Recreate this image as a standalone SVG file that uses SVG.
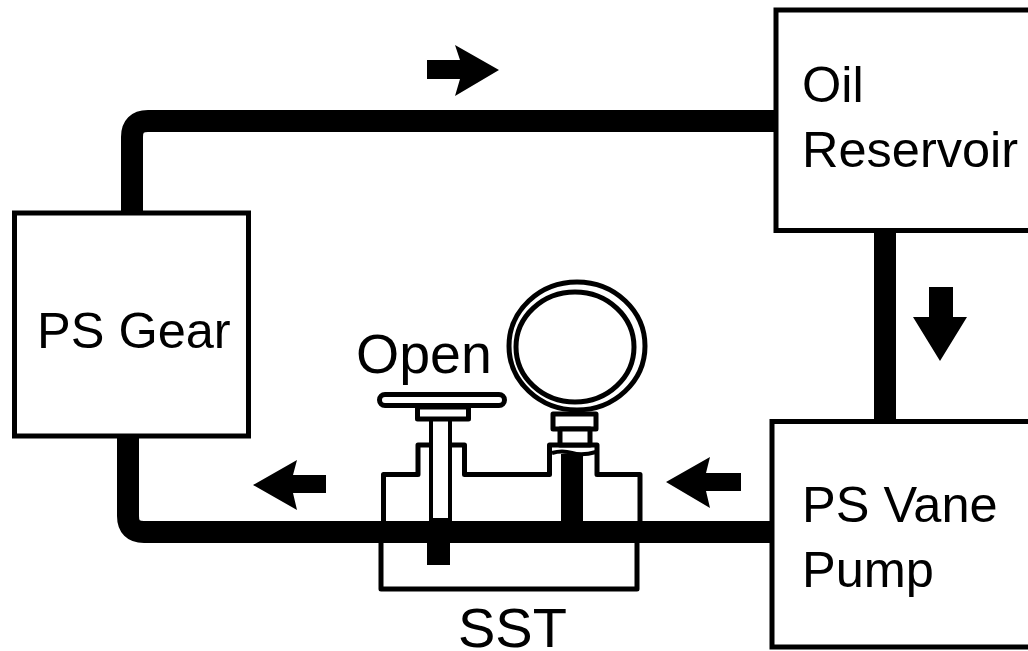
<svg xmlns="http://www.w3.org/2000/svg" width="1028" height="651" viewBox="0 0 1028 651">
<style>
.box{fill:#fff;stroke:#000;stroke-width:5}
.pipe{fill:none;stroke:#000;stroke-width:22}
.line{fill:#fff;stroke:#000;stroke-width:5;stroke-linejoin:round}
.solid{fill:#000;stroke:none}
text{font-family:"Liberation Sans",Arial,sans-serif;fill:#000}
.t50{font-size:50.5px}
.t54{font-size:55.5px}
</style>
<rect width="1028" height="651" fill="#fff"/>
<g id="sst-body">
<path class="line" d="M383.500 531V474.500H418V445H464.500V474.500H549.500V445H597V474.500H640V531H637V589H381V531Z"/>
</g>
<g id="connectors">
<path class="pipe" d="M132 214V137Q132 121 148 121H777"/>
<path class="pipe" d="M885 230V421"/>
<path class="pipe" d="M128 436V516Q128 532 144 532H775"/>
<path class="solid" d="M427 60H460L455 45L499 70L455 96L460 79H427Z"/>
<path class="solid" d="M929 287H953V317H967L940 361L913 317H929Z"/>
<path class="solid" d="M326 475H293L297 460L253 485L297 510L293 493H326Z"/>
<path class="solid" d="M741 473H706L710 457L666 482L710 508L706 491H741Z"/>
</g>
<g id="oil-reservoir">
<rect class="box" x="776" y="10" width="270" height="220.500"/>
<text class="t50" x="802" y="102">Oil</text>
<text class="t50" x="802" y="167">Reservoir</text>
</g>
<g id="ps-gear">
<rect class="box" x="14.500" y="213" width="234" height="223"/>
<text class="t50" x="37" y="348">PS Gear</text>
</g>
<g id="ps-vane-pump">
<rect class="box" x="772" y="421.500" width="270" height="225.500"/>
<text class="t50" x="802" y="522">PS Vane</text>
<text class="t50" x="802" y="587">Pump</text>
</g>
<g id="valve">
<rect x="431" y="418" width="19" height="102" fill="#fff" stroke="#000" stroke-width="4"/>
<path class="solid" d="M427 540H450V565H427Z"/>
<rect class="line" x="417.500" y="407" width="51" height="12"/>
<rect class="line" x="379.500" y="394.500" width="125" height="11" rx="5.500"/>
<text class="t54" x="356" y="373">Open</text>
</g>
<g id="gauge">
<ellipse class="line" cx="577" cy="346" rx="68" ry="64"/>
<ellipse class="line" cx="575" cy="347" rx="59" ry="55"/>
<rect class="line" x="553" y="414" width="43" height="15"/>
<rect class="line" x="560" y="429" width="30" height="16"/>
<path class="solid" d="M561 454Q572 452 583 454V522H561Z"/>
<path fill="none" stroke="#000" stroke-width="4" d="M552 453Q562 450 572 453T596 452"/>
</g>
<text x="458" y="647" style="font-size:56px">SST</text>
</svg>
